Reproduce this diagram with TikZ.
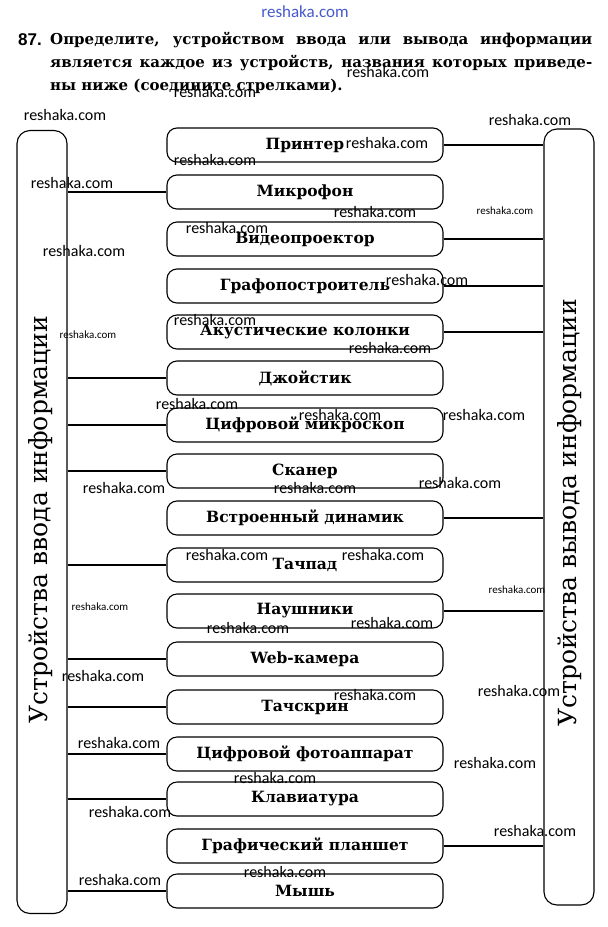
\documentclass[tikz,border=0pt]{standalone}
\usepackage{
  fontspec,       % system fonts (Cyrillic)
  tikz,           % the whole worksheet
}
\setmainfont{DejaVu Serif}
\newfontfamily\wmfont{Carlito}
\newfontfamily\numfont{Liberation Sans}
\definecolor{wmblue}{RGB}{70,90,205}
\tikzset{
  device/.style={draw, line width=1.1pt, rounded corners=10pt,
    minimum width=276pt, minimum height=34pt, inner sep=0pt,
    font=\fontsize{15.5}{17}\selectfont\bfseries},
  panel/.style={draw, line width=1.1pt, rounded corners=13pt,
    minimum width=50pt, inner sep=0pt},
  paneltitle/.style={rotate=90, font=\fontsize{25}{27}\selectfont},
  heading/.style={anchor=west, inner sep=0pt,
    font=\fontsize{15}{17}\selectfont\bfseries},
  link/.style={line width=1.6pt},
  wm/.style={inner sep=0pt, font=\wmfont\fontsize{#1}{#1}\selectfont},
}
\newcommand{\DeviceBox}[3]{
  \node [device] (#1) at (305, #3) {#2};
}
\newcommand{\InputLink}[1]{
  \draw [link] (#1.west) -- (#1.west -| input.east);
}
\newcommand{\OutputLink}[1]{
  \draw [link] (#1.east) -- (#1.east -| output.west);
}

\begin{document}
\begin{tikzpicture}[x=1pt, y=-1pt]
        \useasboundingbox (0, 0) rectangle (608, 927);

        % task text
        \node [heading, font=\numfont\fontsize{17}{19}\selectfont\bfseries] (num) at (18, 40) {87.};
        \node [heading] (line1) at (50, 40) {\makebox[542pt][s]{Определите, устройством ввода или вывода информации}};
        \node [heading] (line2) at (50, 63) {\makebox[542pt][s]{является каждое из устройств, названия которых приведе-}};
        \node [heading] (line3) at (50, 86) {ны ниже (соедините стрелками).};

        % input and output panels
        \node [panel, minimum height=783pt] (input) at (42, 522) {};
        \node [paneltitle] (inputtitle) at (41, 520) {Устройства ввода информации};
        \node [panel, minimum height=776pt] (output) at (569, 517) {};
        \node [paneltitle] (outputtitle) at (570, 513) {Устройства вывода информации};

        % device column
        \DeviceBox{printer}{Принтер}{145}
        \DeviceBox{mic}{Микрофон}{192}
        \DeviceBox{projector}{Видеопроектор}{239}
        \DeviceBox{plotter}{Графопостроитель}{286}
        \DeviceBox{speakers}{Акустические колонки}{332}
        \DeviceBox{joystick}{Джойстик}{378}
        \DeviceBox{microscope}{Цифровой микроскоп}{425}
        \DeviceBox{scanner}{Сканер}{471}
        \DeviceBox{builtin}{Встроенный динамик}{518}
        \DeviceBox{touchpad}{Тачпад}{565}
        \DeviceBox{headphones}{Наушники}{611}
        \DeviceBox{webcam}{Web-камера}{659}
        \DeviceBox{touchscreen}{Тачскрин}{707}
        \DeviceBox{camera}{Цифровой фотоаппарат}{754}
        \DeviceBox{keyboard}{Клавиатура}{799}
        \DeviceBox{tablet}{Графический планшет}{846}
        \DeviceBox{mouse}{Мышь}{891}

        % answers: input side
        \InputLink{mic} \InputLink{joystick} \InputLink{microscope}
        \InputLink{scanner} \InputLink{touchpad} \InputLink{webcam}
        \InputLink{touchscreen} \InputLink{camera} \InputLink{keyboard}
        \InputLink{mouse}

        % answers: output side
        \OutputLink{printer} \OutputLink{projector} \OutputLink{plotter}
        \OutputLink{speakers} \OutputLink{builtin} \OutputLink{headphones}
        \OutputLink{tablet}

        % watermarks
        \node [wm=17, text=wmblue] (wmtop) at (305, 12) {reshaka.com};
        \foreach \wx/\wy/\ws [count=\i] in {388/72/16, 215/92/16, 65/115/16, 530/120/16,
            387/143/16, 215/160/16, 72/183/16, 375/212/16, 505/211/11, 227/228/16,
            84/251/16, 88/335/11, 427/280/16, 215/320/16, 390/348/16, 197/404/16,
            340/415/16, 484/415/16, 124/488/16, 315/488/16, 460/483/16, 227/555/16,
            383/555/16, 517/590/11, 100/607/11, 248/628/16, 392/623/16, 103/676/16,
            375/695/16, 519/691/16, 119/743/16, 495/763/16, 275/778/16, 130/812/16,
            535/831/16, 285/872/16, 120/880/16}
          \node [wm=\ws] (wm\i) at (\wx, \wy) {reshaka.com};

\end{tikzpicture}
\end{document}
